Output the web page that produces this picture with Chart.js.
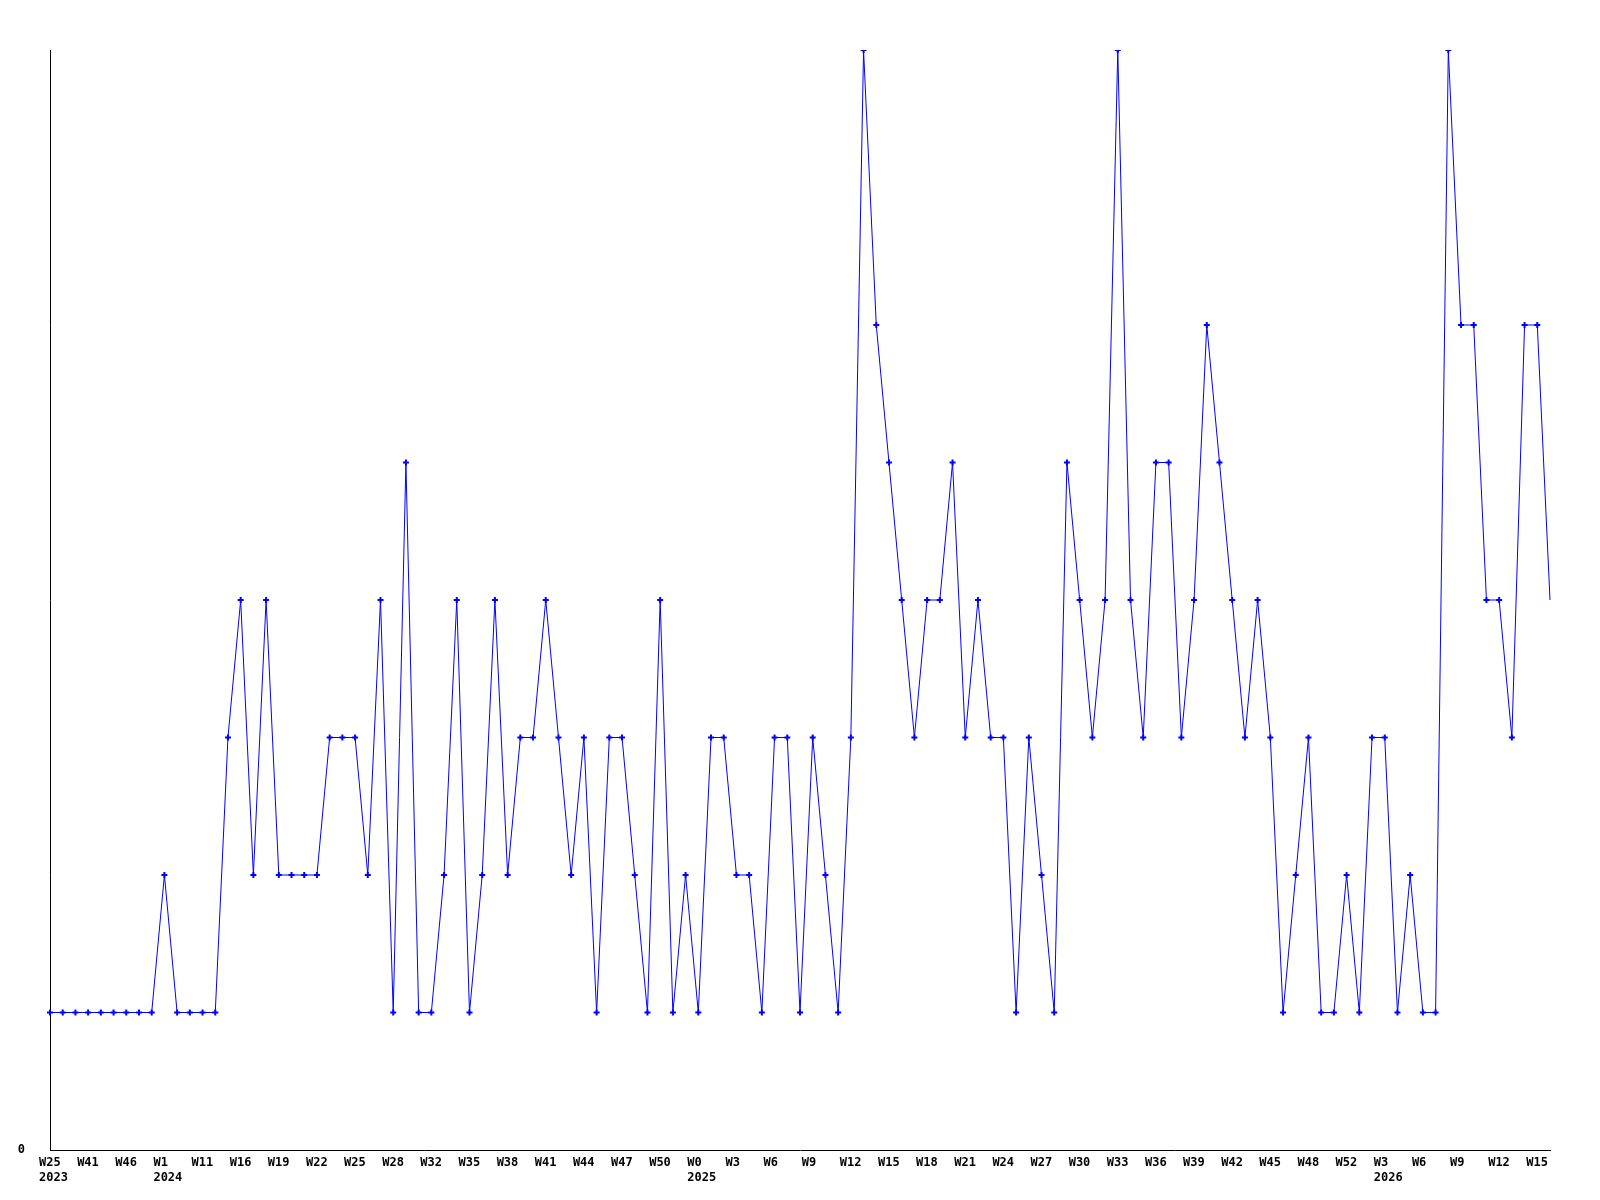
<!DOCTYPE html>
<html lang="en">
<head>
    <meta charset="UTF-8">
    <title>Weekly count</title>
    <style>
        html, body { margin: 0; padding: 0; background: #fff; }
        canvas { display: block; }
    </style>
</head>
<body>
    <canvas id="myChart" width="1600" height="1200"></canvas>

    <script src="https://cdn.jsdelivr.net/npm/chart.js"></script>
    <script>
        // week label of every point (only every 3rd one is printed)
        var weeks = [
            'W25', 'W33', 'W38', 'W41', 'W43', 'W44', 'W46', 'W48', 'W50',
            'W1', 'W4', 'W8', 'W11', 'W13', 'W15', 'W16', 'W17', 'W18', 'W19', 'W20',
            'W21', 'W22', 'W23', 'W24', 'W25', 'W26', 'W27', 'W28', 'W29', 'W31',
            'W32', 'W33', 'W34', 'W35', 'W36', 'W37', 'W38', 'W39', 'W40', 'W41',
            'W42', 'W43', 'W44', 'W45', 'W46', 'W47', 'W48', 'W49', 'W50', 'W51', 'W52',
            'W0', 'W1', 'W2', 'W3', 'W4', 'W5', 'W6', 'W7', 'W8', 'W9',
            'W10', 'W11', 'W12', 'W13', 'W14', 'W15', 'W16', 'W17', 'W18', 'W19',
            'W20', 'W21', 'W22', 'W23', 'W24', 'W25', 'W26', 'W27', 'W28', 'W29',
            'W30', 'W31', 'W32', 'W33', 'W34', 'W35', 'W36', 'W37', 'W38', 'W39',
            'W40', 'W41', 'W42', 'W43', 'W44', 'W45', 'W46', 'W47', 'W48', 'W49',
            'W50', 'W52',
            'W1', 'W2', 'W3', 'W4', 'W5', 'W6', 'W7', 'W8', 'W9', 'W10',
            'W11', 'W12', 'W13', 'W14', 'W15', 'W16'
        ];

        // index of the first point of each year, and the year
        var yearStartIndex = [0, 9, 51, 103];
        var yearNames = ['2023', '2024', '2025', '2026'];

        var counts = [
            1, 1, 1, 1, 1, 1, 1, 1, 1,
            2, 1, 1, 1, 1, 3, 4, 2, 4, 2, 2,
            2, 2, 3, 3, 3, 2, 4, 1, 5, 1,
            1, 2, 4, 1, 2, 4, 2, 3, 3, 4,
            3, 2, 3, 1, 3, 3, 2, 1, 4, 1, 2,
            1, 3, 3, 2, 2, 1, 3, 3, 1, 3,
            2, 1, 3, 8, 6, 5, 4, 3, 4, 4,
            5, 3, 4, 3, 3, 1, 3, 2, 1, 5,
            4, 3, 4, 8, 4, 3, 5, 5, 3, 4,
            6, 5, 4, 3, 4, 3, 1, 2, 3, 1,
            1, 2,
            1, 3, 3, 1, 2, 1, 1, 8, 6, 6,
            4, 4, 3, 6, 6, 4
        ];

        function yearOf(i) {
            var y = yearNames[0];
            for (var k = 0; k < yearStartIndex.length; k++) {
                if (i >= yearStartIndex[k]) y = yearNames[k];
            }
            return y;
        }

        var tickFont = { family: "'DejaVu Sans Mono', monospace", size: 12, weight: 'bold' };

        var ctx = document.getElementById('myChart').getContext('2d');
        var myChart = new Chart(ctx, {
            type: 'line',
            data: {
                labels: weeks,
                datasets: [{
                    data: counts,
                    borderColor: '#0000ff',
                    backgroundColor: '#0000ff',
                    borderWidth: 1,
                    tension: 0,
                    fill: false,
                    pointStyle: 'cross',
                    // the last (current) week has no marker
                    pointRadius: function(c) { return c.dataIndex === counts.length - 1 ? 0 : 3; },
                    pointBorderWidth: 2,
                    pointBorderColor: '#0000ff',
                    pointHoverRadius: 3
                }]
            },
            options: {
                responsive: false,
                animation: false,
                layout: { padding: { top: 50, right: 50, left: 0, bottom: 0 } },
                plugins: {
                    legend: { display: false },
                    tooltip: { enabled: false }
                },
                scales: {
                    x: {
                        type: 'category',
                        offset: false,
                        grid: { display: false, drawTicks: false },
                        border: { display: true, color: '#000', width: 1 },
                        afterFit: function(scale) { scale.height = 50; },
                        ticks: {
                            autoSkip: false,
                            maxRotation: 0,
                            align: 'start',
                            labelOffset: -11,
                            padding: 6,
                            color: '#000',
                            font: tickFont,
                            callback: function(value, index) {
                                if (index % 3 !== 0) return null;
                                var lbl = weeks[index];
                                if (index === 0 || yearOf(index) !== yearOf(index - 3)) {
                                    return [lbl, yearOf(index)];
                                }
                                return lbl;
                            }
                        }
                    },
                    y: {
                        min: 0,
                        max: 8,
                        grid: { display: false, drawTicks: false },
                        border: { display: true, color: '#000', width: 1 },
                        afterFit: function(scale) { scale.width = 50; },
                        ticks: {
                            stepSize: 8,
                            padding: 25,
                            color: '#000',
                            font: tickFont,
                            callback: function(value) {
                                return value === 0 ? '0' : '';
                            }
                        }
                    }
                }
            }
        });
    </script>
</body>
</html>
